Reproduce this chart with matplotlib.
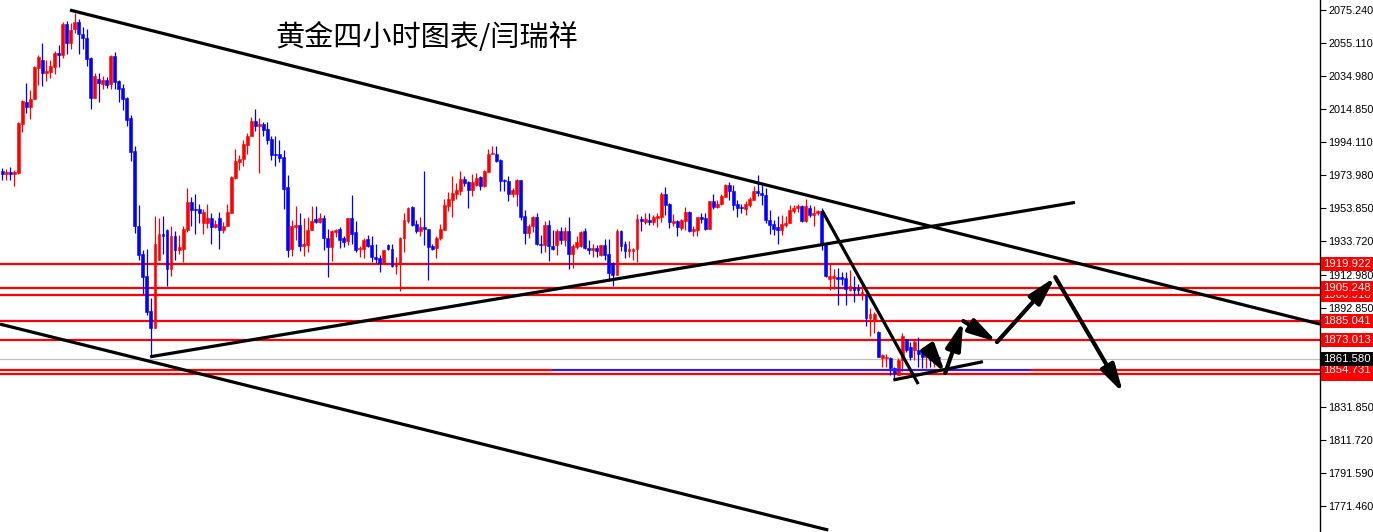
import matplotlib
matplotlib.use("Agg")
import matplotlib.pyplot as plt
import matplotlib.transforms as mtransforms
import numpy as np

# ------------------------------------------------------------------ #
#  4h gold candles                               #
# ------------------------------------------------------------------ #
opens = [
    1976.7, 1974.7, 1976.1, 1974.7, 1975.3, 2005.5, 2018.9, 2015.9, 2020.5, 2039.5,
    2044.9, 2036.5, 2037.5, 2040.5, 2048.9, 2047.5, 2066.6, 2055.3, 2063.4, 2067.6,
    2060.6, 2058.2, 2045.9, 2021.3, 2033.1, 2030.1, 2032.5, 2029.9, 2046.9, 2031.5,
    2027.5, 2021.3, 2009.3, 1988.7, 1943.1, 1925.7, 1912.1, 1890.9, 1880.5, 1922.1,
    1938.1, 1940.7, 1916.5, 1937.1, 1928.1, 1929.1, 1940.7, 1957.5, 1953.3, 1953.3,
    1945.1, 1945.1, 1948.1, 1942.1, 1948.1, 1940.3, 1942.7, 1950.9, 1972.3, 1982.3,
    1984.3, 1992.5, 1997.9, 2007.3, 2004.5, 2005.7, 2002.5, 1996.5, 1987.3, 1986.9,
    1985.3, 1966.7, 1928.7, 1942.1, 1943.7, 1930.7, 1931.1, 1940.7, 1947.3, 1945.7,
    1948.1, 1935.9, 1930.1, 1939.1, 1941.1, 1935.5, 1933.5, 1948.1, 1939.1, 1928.9,
    1928.9, 1935.3, 1931.3, 1924.1, 1923.3, 1920.5, 1931.1, 1929.1, 1918.5, 1919.7,
    1935.5, 1946.3, 1954.7, 1944.1, 1939.7, 1942.3, 1941.3, 1930.5, 1929.5, 1935.5,
    1940.7, 1955.3, 1958.7, 1962.7, 1964.7, 1971.9, 1969.7, 1964.9, 1968.3, 1972.7,
    1967.3, 1976.3, 1986.9, 1987.3, 1983.3, 1970.9, 1970.3, 1962.7, 1962.7, 1970.9,
    1949.1, 1938.7, 1942.7, 1948.3, 1932.1, 1931.1, 1943.7, 1930.5, 1931.1, 1940.1,
    1934.3, 1939.7, 1925.7, 1930.1, 1930.5, 1940.1, 1929.7, 1928.1, 1929.5, 1925.1,
    1931.5, 1926.1, 1920.1, 1913.1, 1940.1, 1932.1, 1927.7, 1927.7, 1929.1, 1947.1,
    1945.7, 1946.7, 1945.7, 1947.7, 1948.7, 1962.3, 1956.7, 1945.1, 1946.1, 1941.7,
    1946.1, 1951.7, 1939.7, 1940.7, 1948.3, 1947.7, 1941.3, 1958.1, 1954.7, 1956.7,
    1960.7, 1968.3, 1964.7, 1956.7, 1954.7, 1953.1, 1956.1, 1959.1, 1964.7, 1963.1,
    1962.1, 1946.7, 1944.3, 1942.1, 1940.3, 1943.5, 1944.7, 1952.3, 1953.7, 1955.3,
    1946.3, 1954.3, 1949.7, 1950.7, 1952.3, 1932.1, 1910.5, 1911.1, 1911.7, 1911.7,
    1911.1, 1903.7, 1905.5, 1905.1, 1900.5, 1900.9, 1886.5, 1885.5, 1878.1, 1861.9,
    1861.9, 1861.9, 1855.9, 1851.9, 1860.9, 1873.5, 1868.9, 1867.3, 1867.3, 1866.5,
    1862.9, 1864.9, 1858.9, 1862.9,
]
highs = [
    1978.3, 1977.7, 1979.3, 1977.3, 2006.9, 2019.9, 2030.5, 2026.5, 2040.9, 2047.5,
    2055.3, 2044.5, 2044.5, 2049.9, 2053.9, 2067.6, 2068.6, 2067.0, 2073.6, 2070.0,
    2064.6, 2063.4, 2046.5, 2036.9, 2036.5, 2034.9, 2034.1, 2047.5, 2049.5, 2032.5,
    2029.9, 2021.9, 2010.9, 1991.9, 1955.7, 1928.1, 1929.1, 1898.9, 1949.1, 1947.7,
    1949.1, 1941.1, 1943.1, 1939.7, 1937.7, 1942.7, 1966.3, 1960.7, 1962.3, 1956.7,
    1953.5, 1956.3, 1950.7, 1946.7, 1951.3, 1945.7, 1956.7, 1973.7, 1990.3, 1986.3,
    1995.9, 1999.9, 2009.9, 2014.9, 2008.9, 2006.9, 2006.9, 1997.9, 1997.9, 1995.9,
    1989.7, 1974.3, 1946.7, 1955.1, 1951.1, 1947.7, 1948.7, 1955.1, 1955.1, 1950.7,
    1949.7, 1941.1, 1940.7, 1941.3, 1942.1, 1936.7, 1948.1, 1961.7, 1946.3, 1930.7,
    1935.7, 1937.7, 1936.7, 1932.1, 1925.1, 1928.5, 1932.1, 1931.7, 1923.7, 1936.3,
    1950.7, 1954.7, 1955.1, 1946.7, 1948.3, 1976.7, 1941.3, 1931.7, 1936.7, 1944.3,
    1959.7, 1963.9, 1973.7, 1969.3, 1976.7, 1973.3, 1970.3, 1974.9, 1975.7, 1973.3,
    1977.3, 1989.9, 1991.7, 1991.7, 1983.7, 1971.7, 1973.3, 1966.3, 1971.7, 1971.3,
    1952.7, 1944.3, 1949.1, 1951.1, 1937.7, 1946.3, 1946.7, 1940.7, 1941.1, 1942.1,
    1942.3, 1948.3, 1931.7, 1937.1, 1939.7, 1941.7, 1934.1, 1932.1, 1931.5, 1931.5,
    1935.1, 1935.1, 1921.1, 1941.1, 1940.7, 1933.5, 1933.7, 1929.7, 1950.1, 1949.1,
    1950.7, 1951.1, 1949.7, 1951.1, 1963.7, 1966.9, 1957.1, 1950.3, 1946.7, 1947.1,
    1954.7, 1952.1, 1943.1, 1948.7, 1951.1, 1950.7, 1958.1, 1962.7, 1958.7, 1962.7,
    1968.9, 1969.7, 1968.3, 1958.7, 1956.7, 1958.1, 1960.7, 1967.3, 1973.9, 1968.9,
    1966.3, 1952.7, 1946.7, 1949.1, 1949.7, 1949.1, 1955.7, 1955.7, 1956.3, 1955.7,
    1959.7, 1955.7, 1955.1, 1952.7, 1953.7, 1932.5, 1919.7, 1916.5, 1917.1, 1915.1,
    1914.5, 1916.1, 1912.1, 1907.5, 1906.9, 1901.5, 1892.5, 1890.5, 1878.5, 1864.9,
    1864.3, 1862.9, 1856.9, 1861.9, 1877.5, 1873.9, 1871.9, 1873.9, 1875.3, 1866.9,
    1866.9, 1865.9, 1864.9, 1863.9,
]
lows = [
    1971.3, 1971.3, 1971.3, 1967.3, 1974.9, 2000.3, 2012.3, 2008.5, 2020.5, 2029.5,
    2028.5, 2031.5, 2033.9, 2035.9, 2040.5, 2046.1, 2048.1, 2051.5, 2061.0, 2048.5,
    2051.5, 2041.1, 2014.9, 2021.3, 2018.9, 2026.9, 2027.5, 2026.9, 2026.9, 2018.9,
    2014.3, 2004.3, 1982.9, 1938.7, 1922.1, 1901.5, 1888.5, 1863.3, 1880.5, 1922.1,
    1926.1, 1906.5, 1912.5, 1922.1, 1926.1, 1921.1, 1939.1, 1942.7, 1938.3, 1944.7,
    1938.3, 1941.5, 1931.7, 1941.7, 1928.9, 1938.7, 1942.7, 1950.9, 1971.7, 1977.3,
    1979.7, 1987.3, 1997.9, 2000.9, 1975.7, 1997.9, 1993.3, 1983.3, 1979.7, 1982.3,
    1953.3, 1924.1, 1924.7, 1934.3, 1927.7, 1924.7, 1927.1, 1940.7, 1944.7, 1945.1,
    1928.1, 1911.5, 1921.7, 1936.3, 1929.7, 1930.1, 1931.5, 1932.1, 1927.1, 1923.7,
    1923.1, 1930.1, 1920.7, 1920.1, 1914.7, 1919.7, 1928.1, 1917.7, 1913.7, 1903.1,
    1927.1, 1944.7, 1943.1, 1938.7, 1936.7, 1931.1, 1910.1, 1928.5, 1923.1, 1934.7,
    1940.7, 1952.3, 1948.3, 1959.3, 1961.7, 1967.7, 1954.1, 1961.3, 1967.7, 1965.3,
    1966.9, 1976.3, 1986.9, 1982.3, 1964.3, 1964.3, 1958.3, 1960.7, 1955.1, 1946.7,
    1932.1, 1935.7, 1939.1, 1931.1, 1926.5, 1927.1, 1921.7, 1928.5, 1925.1, 1932.1,
    1930.5, 1916.5, 1917.1, 1929.1, 1930.1, 1929.1, 1926.1, 1924.1, 1924.1, 1924.5,
    1922.1, 1909.1, 1906.5, 1913.1, 1927.7, 1923.1, 1923.7, 1922.1, 1921.1, 1939.7,
    1944.1, 1943.7, 1943.7, 1942.1, 1945.7, 1949.7, 1941.7, 1943.1, 1937.1, 1940.7,
    1940.7, 1939.1, 1937.1, 1937.1, 1944.7, 1940.7, 1941.1, 1953.1, 1954.3, 1955.7,
    1960.7, 1958.7, 1952.7, 1948.3, 1951.1, 1949.7, 1954.7, 1958.7, 1961.3, 1955.7,
    1944.7, 1938.3, 1937.7, 1932.1, 1937.7, 1942.3, 1944.7, 1950.7, 1951.7, 1945.7,
    1945.7, 1948.7, 1942.7, 1949.7, 1928.1, 1911.7, 1903.9, 1904.5, 1894.5, 1907.1,
    1894.5, 1903.1, 1896.5, 1900.5, 1897.5, 1881.5, 1875.5, 1877.5, 1862.5, 1856.9,
    1856.9, 1851.9, 1848.9, 1851.9, 1853.9, 1865.9, 1860.9, 1860.9, 1856.9, 1855.9,
    1855.9, 1856.9, 1856.9, 1860.9,
]
closes = [
    1974.7, 1976.1, 1974.7, 1976.1, 2006.3, 2019.3, 2015.9, 2020.9, 2040.5, 2046.5,
    2036.5, 2038.1, 2040.9, 2048.9, 2047.7, 2066.6, 2055.3, 2063.0, 2067.6, 2060.6,
    2057.8, 2045.3, 2021.3, 2034.9, 2030.5, 2032.5, 2029.5, 2047.1, 2030.9, 2027.1,
    2020.5, 2007.9, 1988.3, 1942.7, 1925.1, 1911.5, 1890.5, 1880.5, 1932.1, 1938.1,
    1937.1, 1916.5, 1937.1, 1928.1, 1930.1, 1941.1, 1957.5, 1952.7, 1952.7, 1951.1,
    1951.3, 1948.1, 1942.1, 1944.3, 1940.3, 1943.1, 1951.5, 1972.9, 1982.7, 1984.3,
    1992.9, 1998.3, 2007.3, 2004.3, 2005.7, 2001.7, 1995.9, 1986.3, 1986.3, 1984.5,
    1965.9, 1928.1, 1942.7, 1943.7, 1930.5, 1931.7, 1940.7, 1946.1, 1945.7, 1948.1,
    1935.5, 1930.1, 1939.7, 1940.7, 1934.7, 1933.1, 1948.1, 1938.1, 1928.5, 1929.5,
    1934.7, 1930.9, 1923.7, 1922.9, 1920.5, 1928.1, 1929.1, 1918.5, 1920.5, 1935.5,
    1946.7, 1954.1, 1943.7, 1939.7, 1942.3, 1941.1, 1930.1, 1928.9, 1935.5, 1941.3,
    1955.7, 1959.3, 1963.1, 1964.9, 1971.7, 1969.3, 1964.9, 1969.7, 1972.3, 1967.3,
    1976.7, 1987.3, 1987.7, 1982.9, 1970.3, 1970.3, 1962.7, 1964.9, 1970.9, 1948.7,
    1938.7, 1943.1, 1948.3, 1932.1, 1931.1, 1943.7, 1930.5, 1929.1, 1939.7, 1934.3,
    1939.7, 1926.1, 1930.7, 1932.9, 1939.5, 1929.7, 1928.1, 1929.3, 1927.7, 1931.1,
    1925.1, 1914.1, 1913.1, 1940.1, 1930.5, 1927.7, 1928.7, 1929.1, 1947.1, 1945.9,
    1947.1, 1945.5, 1948.3, 1949.1, 1962.3, 1955.7, 1945.7, 1946.1, 1942.1, 1946.7,
    1951.7, 1939.7, 1941.1, 1948.7, 1947.1, 1941.3, 1958.1, 1954.7, 1956.7, 1961.3,
    1968.3, 1964.3, 1955.7, 1954.3, 1953.7, 1956.7, 1959.7, 1964.7, 1963.1, 1961.7,
    1946.7, 1943.7, 1941.1, 1940.3, 1944.3, 1945.1, 1952.7, 1954.3, 1955.3, 1946.3,
    1955.1, 1949.7, 1951.1, 1952.3, 1932.1, 1912.1, 1912.5, 1912.5, 1910.5, 1910.5,
    1904.1, 1906.1, 1903.7, 1903.7, 1902.5, 1886.5, 1889.1, 1889.1, 1862.9, 1863.9,
    1862.9, 1855.9, 1852.9, 1860.9, 1875.5, 1867.3, 1862.9, 1871.9, 1864.5, 1862.9,
    1864.9, 1860.9, 1862.9, 1861.9,
]

# horizontal levels (red), current price (grey), blue support stretch
level_prices = [1852.583, 1854.731, 1873.013, 1885.041, 1900.918, 1905.248, 1919.922]
current_price = 1861.580
blue_x = [137.1, 255.8]
blue_y = [1854.5, 1854.5]

# hand-drawn trend lines: (bar0, price0, bar1, price1)
trend_lines = [
    (16.85, 2075.2, 328.0, 1882.9),
    (-0.57, 1882.9, 205.6, 1756.8),
    (36.8, 1862.9, 267.0, 1957.4),
    (204.1, 1952.3, 228.0, 1846.2),
    (221.8, 1848.7, 244.1, 1859.9),
]

# forecast zig-zag arrows
arrow_x = [231.6, 234.7, 239.2, 247.6, 262.1, 279.0]
arrow_y = [1864.0, 1852.9, 1884.8, 1871.9, 1911.7, 1840.7]

tick_values = [2075.240, 2055.110, 2034.980, 2014.850, 1994.110, 1973.980, 1953.850,
               1933.720, 1912.980, 1892.850, 1831.850, 1811.720, 1791.590, 1771.460]

title = "黄金四小时图表/闫瑞祥"

UP, DOWN = "#ff0000", "#0000ff"
AXIS_FONT = ["Liberation Sans", "DejaVu Sans"]

# ------------------------------------------------------------------ #
fig = plt.figure(figsize=(13.73, 5.32), dpi=100)
ax = fig.add_axes([0, 0, 1320 / 1373, 1])
ax.set_xlim(-0.57, 328.0)
ax.set_ylim(1755.6, 2081.36)

o, h, l, c = map(np.array, (opens, highs, lows, closes))
idx = np.arange(len(o))
cols = np.where(c >= o, UP, DOWN)

ax.vlines(idx, l, h, colors=cols, linewidth=0.9, zorder=2)
bottom = np.minimum(o, c)
height = np.maximum(np.abs(c - o), 0.4)
ax.bar(idx, height, bottom=bottom, width=0.72, color=cols, edgecolor=cols,
       linewidth=0.4, zorder=3)

# levels
for p in level_prices:
    ax.axhline(p, color="#ff0000", linewidth=1.6, zorder=1)
ax.axhline(current_price, color="#c0c0c0", linewidth=0.9, zorder=1)
ax.plot(blue_x, blue_y, color="#2020ff", linewidth=1.4, zorder=4)

# trend lines
for x0, y0, x1, y1 in trend_lines:
    ax.plot([x0, x1], [y0, y1], color="black", linewidth=2.3,
            solid_capstyle="butt", zorder=5)

# zig-zag arrows
for i in range(len(arrow_x) - 1):
    ax.annotate("", xy=(arrow_x[i + 1], arrow_y[i + 1]),
                xytext=(arrow_x[i], arrow_y[i]),
                arrowprops=dict(arrowstyle="-|>,head_length=1.2,head_width=0.32",
                                color="black", lw=3.0, mutation_scale=14,
                                shrinkA=0, shrinkB=0),
                zorder=6)

# right price axis
for s in ("left", "top", "bottom"):
    ax.spines[s].set_visible(False)
ax.spines["right"].set_color("black")
ax.spines["right"].set_linewidth(1.0)
ax.set_xticks([])
ax.yaxis.tick_right()
ax.set_yticks(tick_values)
ax.set_yticklabels([f"{v:.3f}" for v in tick_values], family=AXIS_FONT)
ax.tick_params(axis="y", direction="out", length=4, width=0.8, pad=2,
               labelsize=7.8, colors="black")

trans = mtransforms.blended_transform_factory(ax.transAxes, ax.transData)
for k, p in enumerate(sorted(level_prices)):
    ax.text(1.0025, p, f"{p:.3f}", transform=trans, ha="left", va="center",
            fontsize=8.2, color="white", clip_on=False, zorder=10 + k,
            family=AXIS_FONT,
            bbox=dict(boxstyle="square,pad=0.18", fc="#ff0000", ec="none"))
ax.text(1.0025, current_price, f"{current_price:.3f}", transform=trans,
        ha="left", va="center", fontsize=8.2, color="white", clip_on=False,
        zorder=30, family=AXIS_FONT,
        bbox=dict(boxstyle="square,pad=0.18", fc="black", ec="none"))

fig.text(275 / 1373, 1 - 38 / 532, title, ha="left", va="center", fontsize=21,
         family=["Noto Sans CJK SC", "DejaVu Sans"], color="black")

fig.savefig("out.png", dpi=100)
